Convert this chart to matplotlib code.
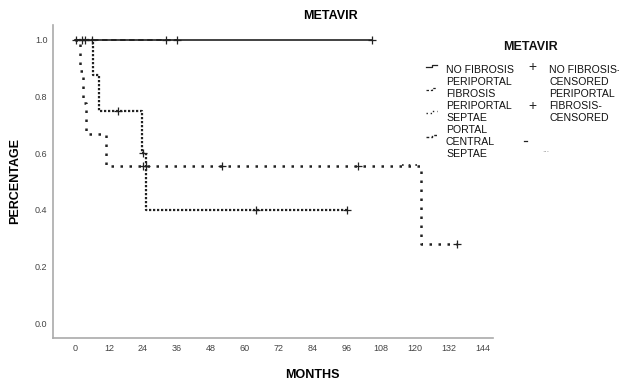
import numpy as np
import matplotlib
matplotlib.use('Agg')
import matplotlib.pyplot as plt
from matplotlib.lines import Line2D

# survival curves (months, cumulative survival)
no_fib_t = [0, 105]
no_fib_s = [1.0, 1.0]
no_fib_cens_t = [0.4, 2.5, 3.5, 6, 105]
no_fib_cens_s = [1.0, 1.0, 1.0, 1.0, 1.0]

peri_fib_t = [0, 36]
peri_fib_s = [1.0, 1.0]
peri_fib_cens_t = [32, 36]
peri_fib_cens_s = [1.0, 1.0]

peri_sept_t = [0, 6.5, 8.5, 23.5, 25, 96]
peri_sept_s = [1.0, 0.875, 0.75, 0.6, 0.4, 0.4]
peri_sept_cens_t = [15, 24, 64, 96]
peri_sept_cens_s = [0.75, 0.6, 0.4, 0.4]

portal_t = [0, 1.8, 2.8, 3.9, 10.9, 122, 135]
portal_s = [1.0, 0.889, 0.778, 0.667, 0.556, 0.278, 0.278]
portal_cens_t = [24, 25, 52, 100, 135]
portal_cens_s = [0.556, 0.556, 0.556, 0.556, 0.278]

x_ticks = [0, 12, 24, 36, 48, 60, 72, 84, 96, 108, 120, 132, 144]
y_ticks = [0.0, 0.2, 0.4, 0.6, 0.8, 1.0]

plt.rcParams['font.family'] = ['Liberation Sans', 'DejaVu Sans']

fig = plt.figure(figsize=(6.19, 3.82), dpi=100)
ax = fig.add_axes([0.0856, 0.115, 0.7104, 0.82])

ax.step(no_fib_t, no_fib_s, where='post', color='#333333', lw=1.3, linestyle='-')
ax.step(peri_fib_t, peri_fib_s, where='post', color='#222222', lw=1.3, linestyle=(0, (3, 2)))
ax.step(peri_sept_t, peri_sept_s, where='post', color='#222222', lw=1.6, linestyle=(0, (1, 0.8)))
ax.step(portal_t, portal_s, where='post', color='#222222', lw=1.8, linestyle=(0, (1, 2.6)))

for t, s in [(no_fib_cens_t, no_fib_cens_s), (peri_fib_cens_t, peri_fib_cens_s),
             (peri_sept_cens_t, peri_sept_cens_s), (portal_cens_t, portal_cens_s)]:
    ax.plot(t, s, linestyle='none', marker='+', color='#222222', ms=6, mew=0.9)

ax.set_xlim(-7.8, 147.5)
ax.set_ylim(-0.053, 1.053)
ax.set_xticks(x_ticks)
ax.set_yticks(y_ticks)
ax.set_yticklabels(['%.1f' % v for v in y_ticks])
ax.tick_params(length=0, labelsize=6.5, labelcolor='#444444', pad=4)
for side in ['top', 'right']:
    ax.spines[side].set_visible(False)
for side in ['left', 'bottom']:
    ax.spines[side].set_color('#aaaaaa')
    ax.spines[side].set_linewidth(1.2)

ax.set_title('METAVIR', fontsize=9, fontweight='bold', pad=4, x=0.63)
ax.set_xlabel('MONTHS', fontsize=9, fontweight='bold')
ax.xaxis.set_label_coords(0.59, -0.1)
ax.set_ylabel('PERCENTAGE', fontsize=9, fontweight='bold', labelpad=10)

# legend drawn by hand, SPSS style
W, H = 619.0, 382.0
def ft(x, y, s, size=7.6, **kw):
    fig.text(x / W, 1 - y / H, s, va='center', fontsize=size, color='#111111', **kw)

ft(530, 47, 'METAVIR', size=9, fontweight='bold', ha='center')
left_lines = ['NO FIBROSIS', 'PERIPORTAL', 'FIBROSIS', 'PERIPORTAL', 'SEPTAE',
              'PORTAL', 'CENTRAL', 'SEPTAE']
for i, s in enumerate(left_lines):
    ft(446, 70 + i * 12, s)
right_lines = ['NO FIBROSIS-', 'CENSORED', 'PERIPORTAL', 'FIBROSIS-', 'CENSORED']
for i, s in enumerate(right_lines):
    ft(549, 70 + i * 12, s)

def fl(xs, ys, **kw):
    fig.add_artist(Line2D([x / W for x in xs], [1 - y / H for y in ys],
                          transform=fig.transFigure, color='#222222', **kw))

# small line-pattern glyphs
fl([426, 432, 432, 437], [67, 67, 65, 65], lw=0.9)
fl([426, 432, 432, 437], [90, 90, 88, 88], lw=0.9, linestyle=(0, (2, 1.5)))
fl([426, 432, 432, 437], [113, 113, 111, 111], lw=1.0, linestyle=(0, (1, 2)))
fl([426, 432, 432, 437], [137, 137, 135, 135], lw=1.0, linestyle=(0, (2, 1.5)))
fl([402, 422], [165, 165], lw=1.2, linestyle=(0, (1, 3)))
fig.text(532 / W, 1 - 67 / H, '+', ha='center', va='center', fontsize=10, color='#222222')
fig.text(532 / W, 1 - 106 / H, '+', ha='center', va='center', fontsize=10, color='#222222')
fl([524, 527], [141, 141], lw=0.9)
fig.text(546 / W, 1 - 150 / H, '...', ha='center', va='center', fontsize=6, color='#888888')

fig.savefig('out.png', dpi=100)
